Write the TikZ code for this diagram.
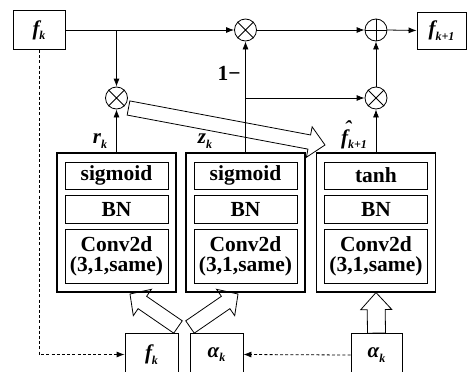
\documentclass[tikz,border=0pt]{standalone}
\usepackage{fontspec}
\setmainfont{Liberation Serif}
\usetikzlibrary{calc,arrows.meta}

% small lowered index for the bold italic symbols
\newcommand\sub[1]{\raisebox{-0.22em}{\fontsize{12}{12}\selectfont #1}}
% circumflex set over the following letter
\newcommand\hatover[1]{\makebox[0pt][l]{\hspace{0.16em}\raisebox{0.4em}{ˆ}}#1}
% outlined block arrow: tail, tip, shaft half width, head half width, head length
\newcommand\hollowarrow[5]{%
  \coordinate (ha-base) at ($(#2)!#5!(#1)$);
  \draw[blockline] ($(#1)!#3!90:(#2)$) -- ($(ha-base)!#3!90:(#2)$)
    -- ($(ha-base)!#4!90:(#2)$) -- (#2) -- ($(ha-base)!#4!-90:(#2)$)
    -- ($(ha-base)!#3!-90:(#2)$) -- ($(#1)!#3!-90:(#2)$) -- cycle;}

\begin{document}
\begin{tikzpicture}[x=1pt,y=-1pt,
  font=\fontsize{21.5}{20}\selectfont\bfseries,
  box/.style={draw, line width=0.8pt, inner sep=0pt, align=center},
  layer/.style={box, minimum width=103pt},
  unit/.style={draw, line width=1.1pt, minimum width=119pt, minimum height=139pt, inner sep=0pt},
  op/.style={circle, draw, line width=0.8pt, minimum size=22pt, inner sep=0pt},
  flow/.style={line width=0.8pt, -{Latex[length=8pt,width=6pt]}},
  dashflow/.style={flow, dash pattern=on 3pt off 2.2pt},
  blockline/.style={line width=0.8pt, line join=miter},
  sym/.style={font=\fontsize{21}{20}\selectfont\bfseries\itshape, inner sep=1pt}]

\useasboundingbox (0,0) rectangle (467,372);

% input and output states
\node[box, sym, minimum width=52pt, minimum height=39pt] (fk) at (39,30) {f\sub{k}};
\node[box, sym, minimum width=49pt, minimum height=37pt] (fk1) at (441.5,30.5) {f\sub{k+1}};

% gate operators
\node[op] (m1) at (116.5,98) {};
\node[op] (m2) at (245.5,30) {};
\node[op] (add) at (376,30) {};
\node[op] (m3) at (376,98) {};
\foreach \n in {m1,m2,m3}
  \draw[line width=0.8pt] (\n.north west) -- (\n.south east) (\n.north east) -- (\n.south west);
\draw[line width=0.8pt] (add.north) -- (add.south) (add.west) -- (add.east);

% convolution units
\foreach \u/\x/\act in {u1/116.5/sigmoid, u2/245.5/sigmoid, u3/376/tanh} {
  \node[unit] (\u) at (\x,222.5) {};
  \node[layer, minimum height=27pt] (\u-act) at (\x,175.5) {\act};
  \node[layer, minimum height=28pt] (\u-bn) at (\x,209) {BN};
  \node[layer, minimum height=54pt] (\u-conv) at (\x,256) {Conv2d\\(3,1,same)};
}

% inputs of the units
\node[box, sym, minimum width=53pt, minimum height=43pt] (fin) at (151.5,354.5) {f\sub{k}};
\node[box, sym, minimum width=53pt, minimum height=43pt] (ain) at (216.5,354.5) {α\sub{k}};
\node[box, sym, minimum width=51pt, minimum height=43pt] (a2) at (376.5,355) {α\sub{k}};

% signal flow
\coordinate (split) at (m1 |- fk.east);
\coordinate (zsplit) at (u2.north |- m3.west);
\draw[flow] (fk.east) -- (m2.west);
\draw[flow] (split) -- (m1.north);
\draw[flow] (u1.north) -- (m1.south);
\draw[flow] (u2.north) -- (m2.south);
\draw[flow] (zsplit) -- (m3.west);
\draw[flow] (m2.east) -- (add.west);
\draw[flow] (u3.north) -- (m3.south);
\draw[flow] (m3.north) -- (add.south);
\draw[flow] (add.east) -- (fk1.west);
\draw[dashflow] (fk.south) |- (fin.west);
\draw[dashflow] (a2.west) -- (ain.east);

% labels
\node[sym] (rk) at (100,141) {r\sub{k}};
\node[sym] (zk) at (205,141) {z\sub{k}};
\node[sym] (fh) at (354,135) {\hatover{f}\sub{k+1}};
\node (one) at (229,73) {1−};

% block arrows
\coordinate (gT) at (128.5,108);
\coordinate (gH) at (325,145);
\hollowarrow{gT}{gH}{7.2pt}{15.5pt}{16pt}
\coordinate (lT) at (178,327);
\coordinate (lH) at (130,294);
\hollowarrow{lT}{lH}{7.5pt}{16pt}{15pt}
\coordinate (rT) at (190,327);
\coordinate (rH) at (238,294);
\hollowarrow{rT}{rH}{7.5pt}{16pt}{15pt}
\hollowarrow{a2.north}{u3.south}{9pt}{15.5pt}{17pt}
\end{tikzpicture}
\end{document}
